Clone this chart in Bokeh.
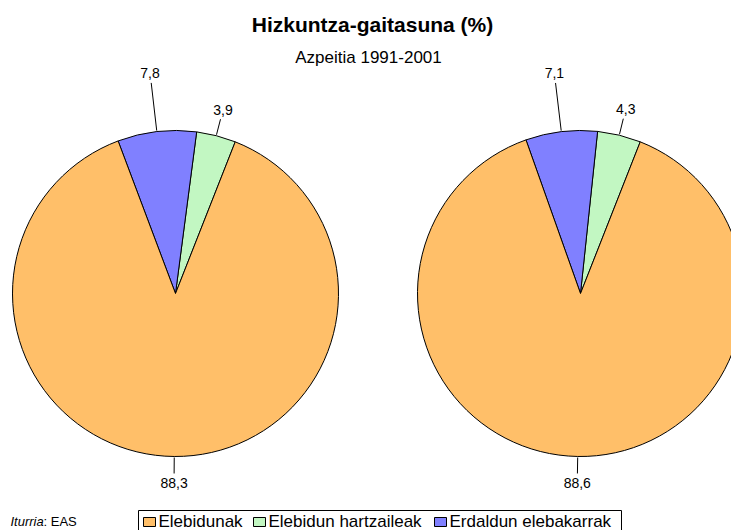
import math
from bokeh.plotting import figure
from bokeh.models import Range1d
from bokeh.core.properties import value
from bokeh.embed import file_html
from bokeh.resources import INLINE

# ---------------- data ----------------
TITLE = "Hizkuntza-gaitasuna (%)"
SUBTITLE = "Azpeitia 1991-2001"
categories = ["Elebidunak", "Elebidun hartzaileak", "Erdaldun elebakarrak"]
values_1991 = [88.3, 3.9, 7.8]
values_2001 = [88.6, 4.3, 7.1]
source_label = "Iturria"
source_value = ": EAS"

# ---------------- style / layout ----------------
colors = ["#FFBF69", "#C2F7C2", "#8080FF"]
FONT = "Liberation Sans"
W, H = 731, 530

p = figure(width=W, height=H, x_range=Range1d(0, W), y_range=Range1d(-H, 0),
           output_backend="svg", toolbar_location=None, min_border=0)
p.axis.visible = False
p.grid.visible = False
p.outline_line_color = None
p.background_fill_color = "white"
p.border_fill_color = "white"


def Y(v):
    return -v


def TY(center, fs):
    # place text so that its visual centre lands at page y = center
    return Y(center)


pies = [(values_1991, 175, 293), (values_2001, 580, 293)]
R = 163
START_DEG = 68.5
ccw_order = [1, 2, 0]
label_r = [190, 190, 222]

for vals, cx, cy in pies:
    total = sum(vals)
    a = math.radians(START_DEG)
    starts, ends, cols = [], [], []
    mids = {}
    for i in ccw_order:
        sweep = 2 * math.pi * vals[i] / total
        starts.append(a)
        ends.append(a + sweep)
        cols.append(colors[i])
        mids[i] = a + sweep / 2
        a += sweep
    p.wedge(x=[cx] * 3, y=[Y(cy)] * 3, radius=R, start_angle=starts, end_angle=ends,
            direction="anticlock", fill_color=cols, line_color="black", line_width=1)
    sx0, sy0, sx1, sy1, tx, ty, tt = [], [], [], [], [], [], []
    for i in range(3):
        m = mids[i]
        lr = label_r[i]
        sx0.append(cx + (R + 1) * math.cos(m))
        sy0.append(Y(cy - (R + 1) * math.sin(m)))
        sx1.append(cx + (lr - 10) * math.cos(m))
        sy1.append(Y(cy - (lr - 10) * math.sin(m)))
        tx.append(cx + lr * math.cos(m))
        ty.append(TY(cy - lr * math.sin(m), 14))
        tt.append(f"{vals[i]:.1f}".replace(".", ","))
    p.segment(x0=sx0, y0=sy0, x1=sx1, y1=sy1, line_color="black", line_width=1)
    p.text(x=tx, y=ty, text=tt, text_align="center", text_baseline="middle",
           text_font=value(FONT), text_font_size="14px", text_color="black")

# title & subtitle
p.text(x=[372], y=[TY(24, 21)], text=[TITLE], text_align="center", text_baseline="middle",
       text_font=value(FONT), text_font_size="21px", text_font_style="bold", text_color="black")
p.text(x=[368], y=[TY(57, 17)], text=[SUBTITLE], text_align="center", text_baseline="middle",
       text_font=value(FONT), text_font_size="17px", text_color="black")

# legend
p.quad(left=[138], right=[621], top=[Y(510)], bottom=[Y(545)], fill_color=None,
       line_color="black", line_width=1)
leg_x = [143, 253, 434]
p.quad(left=leg_x, right=[x + 12 for x in leg_x], top=[Y(517)] * 3, bottom=[Y(526)] * 3,
       fill_color=colors, line_color="black", line_width=1)
p.text(x=[x + 15 for x in leg_x], y=[TY(521, 17)] * 3, text=categories, text_align="left",
       text_baseline="middle", text_font=value(FONT), text_font_size="17px", text_color="black")

# source
p.text(x=[10], y=[TY(521, 13)], text=[source_label], text_align="left", text_baseline="middle",
       text_font=value(FONT), text_font_size="13px", text_font_style="italic", text_color="black")
p.text(x=[43], y=[TY(521, 13)], text=[source_value], text_align="left", text_baseline="middle",
       text_font=value(FONT), text_font_size="13px", text_color="black")

open("out.html", "w").write(file_html(p, INLINE))
